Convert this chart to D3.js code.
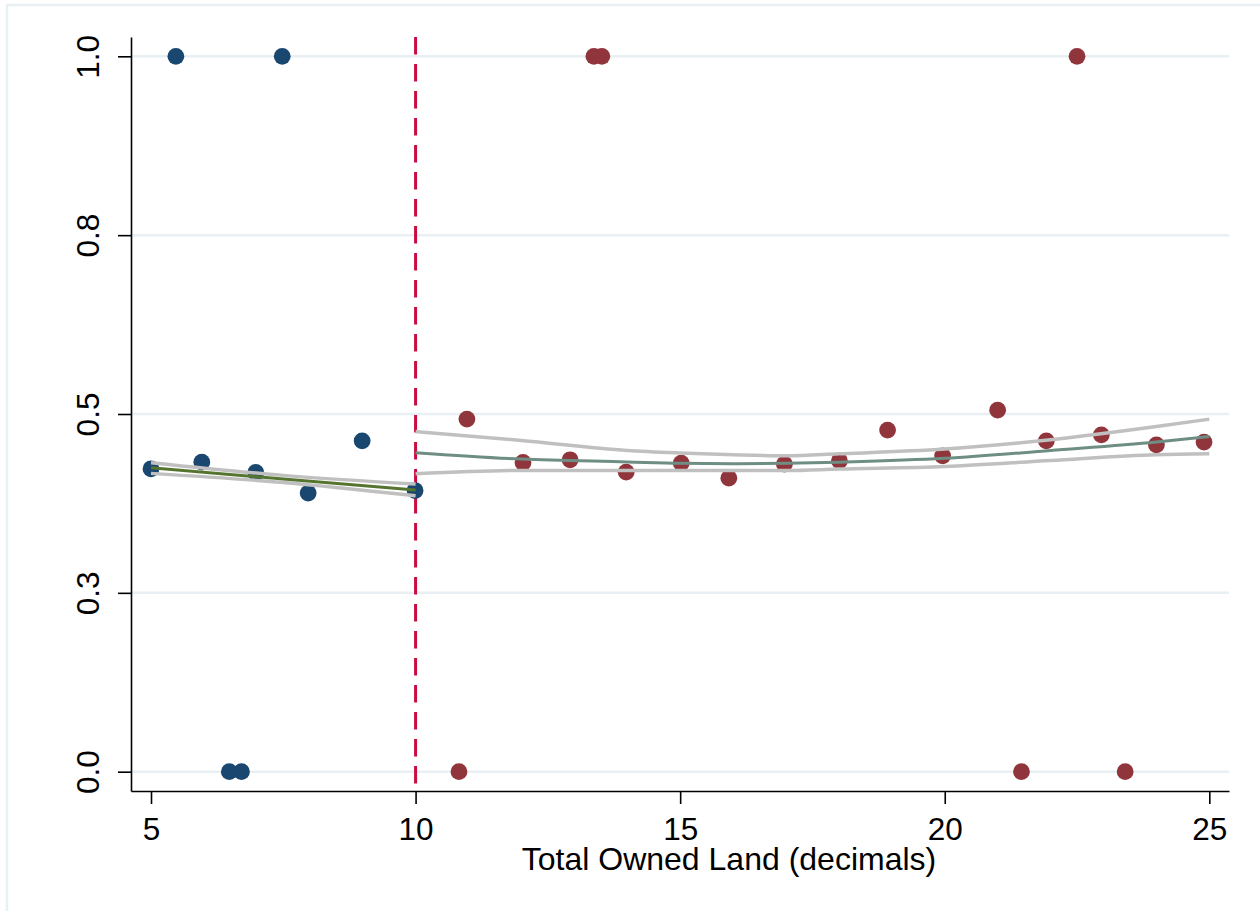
<!DOCTYPE html>
<html>
<head>
<meta charset="utf-8">
<script src="https://cdn.jsdelivr.net/npm/d3@7"></script>
<style>
  body { margin: 0; background: #fff; }
  svg { display: block; font-family: "Liberation Sans", Arial, sans-serif; }
</style>
</head>
<body>
<svg width="1260" height="911"></svg>
<script>
// left of cutoff (navy dots)
let leftX = [5.0, 5.47, 5.96, 6.48, 6.71, 6.98, 7.48, 7.97, 8.99, 9.99];
let leftY = [0.4234, 1, 0.4327, 0, 0, 0.4182, 1, 0.3894, 0.4625, 0.393];

// right of cutoff (maroon dots)
let rightX = [10.82, 10.97, 12.03, 12.92, 13.37, 13.52, 13.98, 15.02, 15.92, 16.97,
              18.01, 18.92, 19.96, 21.0, 21.45, 21.92, 22.5, 22.96, 23.41, 24.0, 24.9];
let rightY = [0, 0.4929, 0.4322, 0.436, 1, 1, 0.4187, 0.4313, 0.4103, 0.4299,
              0.4346, 0.4775, 0.4415, 0.5054, 0, 0.4625, 1, 0.4709, 0, 0.4569, 0.4607];

// fitted lines and bands
let leftFitX = [5, 7.5, 10];
let leftFit = [0.4248, 0.4092, 0.3936];
let leftUpper = [0.432, 0.4142, 0.402];
let leftLower = [0.417, 0.4042, 0.3856];

let rightFitX = [10, 12, 14, 15, 16, 17, 18, 20, 22, 24, 25];
let rightFit = [0.446, 0.437, 0.433, 0.431, 0.4305, 0.431, 0.4327, 0.438, 0.449, 0.4607, 0.4685];
let rightUpper = [0.4755, 0.463, 0.449, 0.4455, 0.443, 0.4415, 0.4443, 0.451, 0.464, 0.4825, 0.4928];
let rightLower = [0.4164, 0.421, 0.421, 0.421, 0.421, 0.421, 0.423, 0.4266, 0.435, 0.443, 0.4443];

let cutoff = 10;

let xTicks = [5, 10, 15, 20, 25];
let yTicks = [0, 0.25, 0.5, 0.75, 1];
let yTickLabels = ["0.0", "0.3", "0.5", "0.8", "1.0"];

/******************/

let plot = {left: 131, right: 1229, top: 37, bottom: 791};

let x = d3.scaleLinear()
          .domain([4.622, 25.372])
          .range([plot.left, plot.right]);
let y = d3.scaleLinear()
          .domain([-0.027, 1.027])
          .range([plot.bottom, plot.top]);

let svg = d3.select("svg");

// outer graph region border
svg.append("rect")
   .attr("x", 7).attr("y", 5)
   .attr("width", 1270).attr("height", 930)
   .attr("fill", "none")
   .attr("stroke", "#e8f0f3")
   .attr("stroke-width", 2.5);

// grid lines
svg.append("g")
   .selectAll("line")
   .data(yTicks)
   .enter().append("line")
   .attr("x1", plot.left).attr("x2", plot.right)
   .attr("y1", d => y(d)).attr("y2", d => y(d))
   .attr("stroke", "#e8f0f3")
   .attr("stroke-width", 2.5);

// cutoff line
svg.append("line")
   .attr("x1", x(cutoff)).attr("x2", x(cutoff))
   .attr("y1", plot.top).attr("y2", plot.bottom)
   .attr("stroke", "#c90d3f")
   .attr("stroke-width", 3)
   .attr("stroke-dasharray", "17.5 9.5");

// dots
let toPts = (xs, ys) => xs.map((d, i) => ({x: d, y: ys[i]}));

svg.append("g")
   .selectAll("circle")
   .data(toPts(leftX, leftY))
   .enter().append("circle")
   .attr("cx", d => x(d.x)).attr("cy", d => y(d.y))
   .attr("r", 8.4)
   .attr("fill", "#1a476f");

svg.append("g")
   .selectAll("circle")
   .data(toPts(rightX, rightY))
   .enter().append("circle")
   .attr("cx", d => x(d.x)).attr("cy", d => y(d.y))
   .attr("r", 8.4)
   .attr("fill", "#90353b");

// lines
let line = d3.line()
             .x(d => x(d.x))
             .y(d => y(d.y))
             .curve(d3.curveMonotoneX);

function drawLine(xs, ys, color, w) {
  svg.append("path")
     .datum(toPts(xs, ys))
     .attr("d", line)
     .attr("fill", "none")
     .attr("stroke", color)
     .attr("stroke-width", w);
}

drawLine(leftFitX, leftUpper, "#c0c0c0", 3.5);
drawLine(leftFitX, leftLower, "#c0c0c0", 3.5);
drawLine(rightFitX, rightUpper, "#c0c0c0", 3.5);
drawLine(rightFitX, rightLower, "#c0c0c0", 3.5);
drawLine(leftFitX, leftFit, "#55752f", 3);
drawLine(rightFitX, rightFit, "#6e8e84", 3);

/******************/

// axes
let xAxis = d3.axisBottom(x)
              .tickValues(xTicks)
              .tickSize(13)
              .tickSizeOuter(0);
let yAxis = d3.axisLeft(y)
              .tickValues(yTicks)
              .tickFormat((d, i) => yTickLabels[i])
              .tickSize(13)
              .tickSizeOuter(0);

let gx = svg.append("g")
            .attr("transform", `translate(0, ${plot.bottom})`)
            .call(xAxis);
gx.selectAll("text")
  .attr("y", 49).attr("dy", 0)
  .style("font-size", "31.5px")
  .attr("fill", "#000");

let gy = svg.append("g")
            .attr("transform", `translate(${plot.left}, 0)`)
            .call(yAxis);
gy.selectAll("text")
  .attr("x", 0).attr("dy", 0)
  .attr("transform", "translate(-32, 0) rotate(-90)")
  .style("text-anchor", "middle")
  .style("font-size", "31.5px")
  .attr("fill", "#000");

svg.selectAll(".domain").attr("stroke", "#000").attr("stroke-width", 1.6);
svg.selectAll(".tick line").attr("stroke", "#000").attr("stroke-width", 1.6);

// x axis title
svg.append("text")
   .attr("x", 729)
   .attr("y", 870)
   .style("text-anchor", "middle")
   .style("font-size", "32px")
   .text("Total Owned Land (decimals)");
</script>
</body>
</html>
